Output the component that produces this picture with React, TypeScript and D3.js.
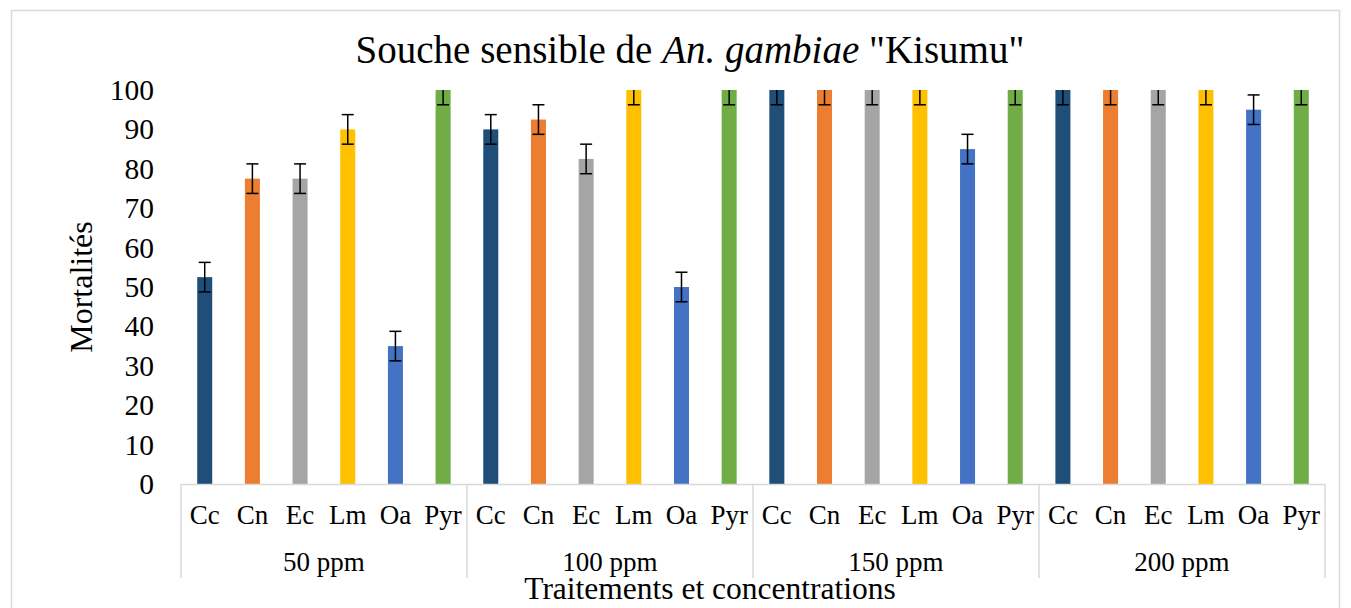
import * as React from 'react';
import * as d3 from 'd3';

const treatments = ['Cc', 'Cn', 'Ec', 'Lm', 'Oa', 'Pyr'];
const concentrations = ['50 ppm', '100 ppm', '150 ppm', '200 ppm'];
const colours = ['#1f4e79', '#ed7d31', '#a5a5a5', '#ffc000', '#4472c4', '#70ad47'];

// mortality per concentration, in treatment order
const mortality50 = [52.5, 77.5, 77.5, 90, 35, 100];
const mortality100 = [90, 92.5, 82.5, 100, 50, 100];
const mortality150 = [100, 100, 100, 100, 85, 100];
const mortality200 = [100, 100, 100, 100, 95, 100];
const errorBar = 3.75;
const yTicks = [0, 10, 20, 30, 40, 50, 60, 70, 80, 90, 100];

const W = 1351;
const H = 608;
const left = 181, right = 1325, top = 90, bottom = 484;

const App = () => {
  const rows = [mortality50, mortality100, mortality150, mortality200];
  const data = rows.flatMap((vals, g) =>
    vals.map((v, i) => ({ key: concentrations[g] + '|' + treatments[i], g, i, v })));

  const x = d3.scaleBand().domain(data.map(d => d.key)).range([left, right]).paddingInner(0.685).paddingOuter(0.34);
  const y = d3.scaleLinear().domain([0, 100]).range([bottom, top]);
  const groupW = (right - left) / concentrations.length;

  const font = '"Liberation Serif", "Times New Roman", serif';

  return (
    <svg width={W} height={H} style={{ position: 'absolute', left: 0, top: 0, background: '#fff' }} fontFamily={font}>
      <rect x={11.5} y={10.5} width={1328} height={620} fill="#fff" stroke="#d9d9d9" strokeWidth={1.5} />
      <text x={690} y={63} textAnchor="middle" fontSize={39} fill="#000">
        Souche sensible de <tspan fontStyle="italic">An. gambiae</tspan> "Kisumu"
      </text>

      {yTicks.map(t => (
        <text key={t} x={154} y={y(t) + 10} textAnchor="end" fontSize={29.5}>{t}</text>
      ))}

      <defs>
        <clipPath id="plot"><rect x={left} y={top} width={right - left} height={bottom - top} /></clipPath>
      </defs>

      <g clipPath="url(#plot)">
        {data.map(d => {
          const bx = x(d.key)!;
          const cx = bx + x.bandwidth() / 2;
          return (
            <g key={d.key}>
              <rect x={bx} y={y(d.v)} width={x.bandwidth()} height={bottom - y(d.v)} fill={colours[d.i]} />
              <line x1={cx} x2={cx} y1={y(d.v + errorBar)} y2={y(d.v - errorBar)} stroke="#000" strokeWidth={1.5} />
              <line x1={cx - 6} x2={cx + 6} y1={y(d.v + errorBar)} y2={y(d.v + errorBar)} stroke="#000" strokeWidth={1.5} />
              <line x1={cx - 6} x2={cx + 6} y1={y(d.v - errorBar)} y2={y(d.v - errorBar)} stroke="#000" strokeWidth={1.5} />
            </g>
          );
        })}
      </g>

      <line x1={left} x2={right} y1={bottom + 0.5} y2={bottom + 0.5} stroke="#d9d9d9" strokeWidth={1.5} />
      {d3.range(concentrations.length + 1).map(k => (
        <line key={k} x1={left + k * groupW} x2={left + k * groupW} y1={bottom} y2={578} stroke="#d9d9d9" strokeWidth={1.5} />
      ))}

      {data.map(d => (
        <text key={'l' + d.key} x={x(d.key)! + x.bandwidth() / 2} y={524} textAnchor="middle" fontSize={27}>{treatments[d.i]}</text>
      ))}
      {concentrations.map((c, g) => (
        <text key={c} x={left + (g + 0.5) * groupW} y={571} textAnchor="middle" fontSize={27}>{c}</text>
      ))}

      <text transform={`translate(92, 287) rotate(-90)`} textAnchor="middle" fontSize={32}>Mortalités</text>
      <text x={710} y={599} textAnchor="middle" fontSize={31.5}>Traitements et concentrations</text>
    </svg>
  );
};

export default App;
